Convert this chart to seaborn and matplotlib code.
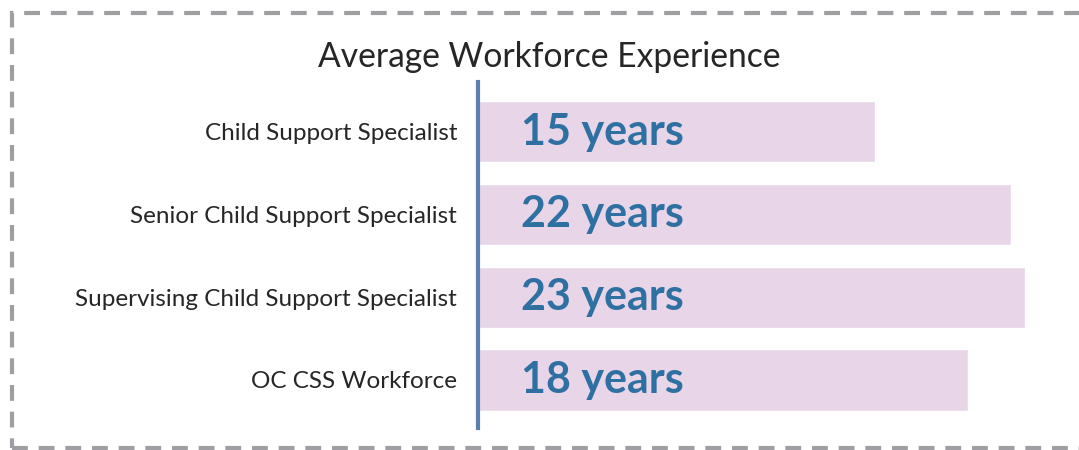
import matplotlib
matplotlib.use("Agg")
import matplotlib.pyplot as plt
from matplotlib.patches import Rectangle
from matplotlib.transforms import blended_transform_factory
import pandas as pd
import seaborn as sns

# Data
roles = [
    "Child Support Specialist",
    "Senior Child Support Specialist",
    "Supervising Child Support Specialist",
    "OC CSS Workforce",
]
bar_values = [16.7, 22.4, 23.0, 20.6]  # bar lengths as drawn
value_labels = ["15 years", "22 years", "23 years", "18 years"]

BAR_COLOR = "#E8D5E8"
TEXT_BLUE = "#2E70A2"
AXIS_BLUE = "#5B80B0"
BORDER_GRAY = "#9E9EA3"

sns.set_theme(style="white")
plt.rcParams["font.family"] = ["Lato", "DejaVu Sans"]

df = pd.DataFrame({"role": roles, "value": bar_values})

fig = plt.figure(figsize=(10.79, 4.5), dpi=100)
ax = fig.add_axes([478 / 1079, 22 / 450, 601 / 1079, 346 / 450])

sns.barplot(data=df, y="role", x="value", orient="h", color=BAR_COLOR,
            width=0.74, saturation=1, ax=ax)

ax.set_xlim(0, 25.25)
ax.set_ylim(3.58, -0.6)
ax.set_xlabel("")
ax.set_ylabel("")
ax.set_xticks([])
sns.despine(ax=ax, left=False, bottom=True, top=True, right=True)
ax.spines["left"].set_color(AXIS_BLUE)
ax.spines["left"].set_linewidth(3)
ax.tick_params(axis="y", length=0, pad=15, labelsize=17.5, labelcolor="#262626")

trans = blended_transform_factory(ax.transAxes, ax.transData)
for i, lab in enumerate(value_labels):
    ax.text(0.071, i, lab, transform=trans, ha="left", va="center",
            fontsize=31, fontweight="bold", color=TEXT_BLUE)

fig.text(549 / 1079, 393 / 450, "Average Workforce Experience", ha="center",
         va="center", fontsize=24.2, color="#262626")

# dashed frame around the figure
border = Rectangle((12 / 1079, 2 / 450), 1080 / 1079, 435 / 450,
                   transform=fig.transFigure, fill=False,
                   edgecolor=BORDER_GRAY, linewidth=3,
                   linestyle=(0, (3.8, 2.6)))
fig.patches.append(border)

fig.savefig("out.png", dpi=100)
